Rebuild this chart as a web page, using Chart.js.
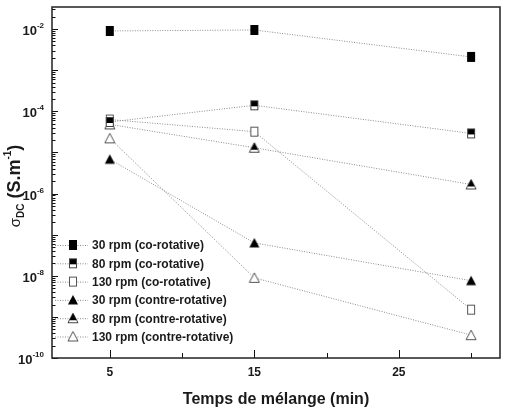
<!DOCTYPE html>
<html>
<head>
<meta charset="utf-8">
<script src="https://cdn.jsdelivr.net/npm/chart.js@4/dist/chart.umd.min.js"></script>
<style>
  html, body { margin: 0; padding: 0; background: #fff; }
  #wrap { width: 507px; height: 413px; }
</style>
</head>
<body>
<div id="wrap"><canvas id="myChart"></canvas></div>
<script>
// data
var times = [5, 15, 30];
var co30 = [9.0e-3, 9.5e-3, 2.1e-3];
var co80 = [5.5e-5, 1.4e-4, 2.9e-5];
var co130 = [6.3e-5, 3.2e-5, 1.5e-9];
var contre30 = [6.8e-6, 6.3e-8, 7.6e-9];
var contre80 = [4.8e-5, 1.3e-5, 1.66e-6];
var contre130 = [2.2e-5, 8.9e-9, 3.6e-10];
var labels = ["30 rpm (co-rotative)", "80 rpm (co-rotative)", "130 rpm (co-rotative)",
              "30 rpm (contre-rotative)", "80 rpm (contre-rotative)", "130 rpm (contre-rotative)"];
var xTicks = [5, 10, 15, 20, 25, 30];
var xLabels = [5, 15, 25];
var yLabelExp = [-2, -4, -6, -8, -10];

var FONT = "'Liberation Sans', Arial, sans-serif";

// marker images
function marker(kind) {
    var c = document.createElement('canvas');
    c.width = 12; c.height = 12;
    var g = c.getContext('2d');
    g.lineWidth = 1;
    g.strokeStyle = '#444';
    if (kind.indexOf('sq') === 0) {
        if (kind === 'sqFull') {
            g.fillStyle = '#000'; g.fillRect(2, 1, 8, 10);
        } else if (kind === 'sqHalf') {
            g.fillStyle = '#fff'; g.fillRect(2, 1, 8, 10);
            g.fillStyle = '#000'; g.fillRect(2, 1, 8, 6);
            g.strokeRect(2.5, 1.5, 7, 9);
        } else {
            g.fillStyle = '#fff'; g.fillRect(2, 1, 8, 10);
            g.strokeStyle = '#555';
            g.strokeRect(2.5, 1.5, 7, 9);
        }
    } else {
        g.beginPath();
        g.moveTo(6, 1); g.lineTo(11, 10.5); g.lineTo(1, 10.5); g.closePath();
        if (kind === 'triFull') {
            g.fillStyle = '#000'; g.fill();
        } else if (kind === 'triHalf') {
            g.fillStyle = '#fff'; g.fill(); g.stroke();
            g.beginPath();
            g.moveTo(6, 1); g.lineTo(9.6, 8); g.lineTo(2.4, 8); g.closePath();
            g.fillStyle = '#000'; g.fill();
        } else {
            g.fillStyle = '#fff'; g.fill();
            g.strokeStyle = '#555'; g.stroke();
        }
    }
    return c;
}

var series = [co30, co80, co130, contre30, contre80, contre130];
var kinds = ['sqFull', 'sqHalf', 'sqOpen', 'triFull', 'triHalf', 'triOpen'];

var datasets = series.map(function (s, i) {
    return {
        label: labels[i],
        data: times.map(function (t, j) { return { x: t, y: s[j] }; }),
        borderColor: '#8a8a8a',
        borderWidth: 1,
        borderDash: [1, 1.5],
        pointStyle: marker(kinds[i]),
        pointRadius: 6,
        pointHoverRadius: 6,
        showLine: true,
        fill: false
    };
});

var framePlugin = {
    id: 'frame',
    afterDraw: function (chart) {
        var ctx = chart.ctx, a = chart.chartArea;
        var xs = chart.scales.x, ys = chart.scales.y;
        ctx.save();
        // inward ticks
        ctx.strokeStyle = '#111';
        ctx.lineWidth = 1;
        ys.ticks.forEach(function (t) {
            var py = Math.round(ys.getPixelForValue(t.value)) + 0.5;
            var e = Math.log10(t.value);
            var major = Math.abs(e - Math.round(e)) < 1e-6;
            ctx.beginPath();
            ctx.moveTo(a.left, py);
            ctx.lineTo(a.left + (major ? 6 : 3.5), py);
            ctx.stroke();
        });
        xs.ticks.forEach(function (t) {
            var px = Math.round(xs.getPixelForValue(t.value)) + 0.5;
            var major = xLabels.indexOf(t.value) >= 0;
            ctx.beginPath();
            ctx.moveTo(px, a.bottom);
            ctx.lineTo(px, a.bottom - (major ? 8 : 5));
            ctx.stroke();
        });
        // y tick labels 10^n
        ctx.fillStyle = '#1a1a1a';
        ctx.textBaseline = 'alphabetic';
        yLabelExp.forEach(function (e) {
            var py = ys.getPixelForValue(Math.pow(10, e));
            ctx.font = 'bold 8px ' + FONT;
            ctx.textAlign = 'right';
            var sup = String(e);
            ctx.fillText(sup, 44, py - 1);
            var sw = ctx.measureText(sup).width;
            ctx.font = 'bold 13px ' + FONT;
            ctx.fillText('10', 44 - sw, py + 6);
        });
        ctx.textAlign = 'left';

        // box
        ctx.strokeStyle = '#222';
        ctx.lineWidth = 1.5;
        ctx.strokeRect(a.left, a.top, a.right - a.left, a.bottom - a.top);

        // legend
        var y0 = 245, dy = 18.3;
        ctx.font = 'bold 12px ' + FONT;
        ctx.textBaseline = 'middle';
        chart.data.datasets.forEach(function (d, i) {
            var y = y0 + i * dy;
            ctx.save();
            ctx.strokeStyle = '#8a8a8a';
            ctx.lineWidth = 1;
            ctx.setLineDash([1, 1.5]);
            ctx.beginPath();
            ctx.moveTo(a.left + 3, y + 0.5);
            ctx.lineTo(a.left + 36, y + 0.5);
            ctx.stroke();
            ctx.restore();
            ctx.drawImage(d.pointStyle, 73 - 6, y - 6);
            ctx.fillStyle = '#1a1a1a';
            ctx.fillText(d.label, 92, y + 1);
        });

        // y title: sigma_DC (S.m^-1)
        ctx.translate(20, 186);
        ctx.rotate(-Math.PI / 2);
        ctx.fillStyle = '#1a1a1a';
        ctx.textBaseline = 'alphabetic';
        var parts = [
            { t: '\u03c3', f: '15px ' + FONT, dy: 0 },
            { t: 'DC', f: 'bold 10px ' + FONT, dy: 4 },
            { t: ' (S.m', f: 'bold 18px ' + FONT, dy: 0 },
            { t: '-1', f: 'bold 10px ' + FONT, dy: -9 },
            { t: ')', f: 'bold 18px ' + FONT, dy: 0 }
        ];
        var w = 0;
        parts.forEach(function (p) { ctx.font = p.f; w += ctx.measureText(p.t).width; });
        var x = -w / 2;
        parts.forEach(function (p) {
            ctx.font = p.f;
            ctx.fillText(p.t, x, p.dy);
            x += ctx.measureText(p.t).width;
        });
        ctx.restore();
    }
};

var ctx1 = document.getElementById("myChart");
var myChart = new Chart(ctx1, {
    type: 'scatter',
    data: { datasets: datasets },
    options: {
        responsive: true,
        maintainAspectRatio: false,
        animation: false,
        events: [],
        layout: { padding: { top: 6, right: 4, left: 0, bottom: 0 } },
        plugins: {
            legend: { display: false },
            tooltip: { enabled: false }
        },
        scales: {
            x: {
                type: 'linear',
                min: 1,
                max: 32,
                grid: { display: false, drawTicks: false },
                border: { display: false },
                afterBuildTicks: function (scale) {
                    scale.ticks = xTicks.map(function (v) { return { value: v }; });
                },
                afterFit: function (scale) { scale.height = 55; },
                ticks: {
                    autoSkip: false,
                    maxRotation: 0,
                    padding: 7,
                    color: '#1a1a1a',
                    font: { family: FONT, size: 12, weight: 'bold' },
                    callback: function (v) { return xLabels.indexOf(v) >= 0 ? String(v) : ''; }
                },
                title: {
                    display: true,
                    text: 'Temps de mélange (min)',
                    color: '#1a1a1a',
                    font: { family: FONT, size: 16, weight: 'bold' },
                    padding: { top: 6, bottom: 4 }
                }
            },
            y: {
                type: 'logarithmic',
                min: 1e-10,
                max: 0.0344,
                grid: { display: false, drawTicks: false },
                border: { display: false },
                afterBuildTicks: function (scale) {
                    var t = [];
                    for (var e = -10; e <= -2; e++) {
                        for (var m = 1; m <= 9; m++) {
                            var v = m * Math.pow(10, e);
                            if (v <= 0.0344 && v >= 1e-10) t.push({ value: v });
                        }
                    }
                    scale.ticks = t;
                },
                afterFit: function (scale) { scale.width = 52; },
                ticks: {
                    autoSkip: false,
                    padding: 0,
                    font: { size: 1 },
                    callback: function () { return ''; }
                }
            }
        }
    },
    plugins: [framePlugin]
});
</script>
</body>
</html>
